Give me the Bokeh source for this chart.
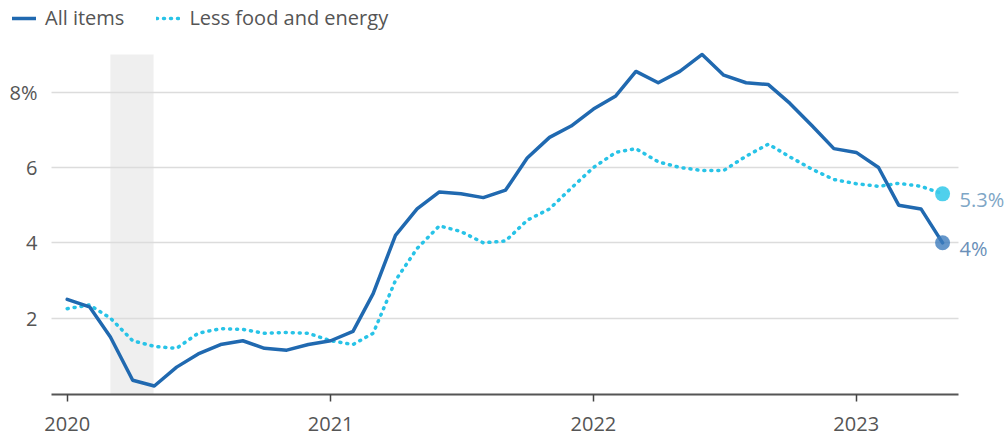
import pandas as pd
from bokeh.plotting import figure
from bokeh.models import (Range1d, FixedTicker, DatetimeTickFormatter, BoxAnnotation,
                          Legend, LegendItem, Label, DatetimeAxis, LinearAxis, Grid)
from bokeh.embed import file_html
from bokeh.resources import INLINE

# ---------------- data ----------------
dates = pd.date_range("2020-01-01", periods=41, freq="MS")
all_items = [2.5, 2.3, 1.5, 0.35, 0.2, 0.7, 1.05, 1.3, 1.4, 1.2, 1.15, 1.3,
             1.4, 1.65, 2.65, 4.2, 4.9, 5.35, 5.3, 5.2, 5.4, 6.25, 6.8, 7.1,
             7.55, 7.9, 8.55, 8.25, 8.55, 9.0, 8.45, 8.25, 8.2, 7.7, 7.1, 6.5,
             6.4, 6.0, 5.0, 4.9, 4.0]
core = [2.25, 2.35, 2.0, 1.4, 1.25, 1.2, 1.6, 1.72, 1.7, 1.6, 1.62, 1.6,
        1.4, 1.3, 1.6, 3.0, 3.85, 4.45, 4.3, 4.0, 4.05, 4.6, 4.9, 5.45,
        6.0, 6.4, 6.5, 6.15, 6.0, 5.92, 5.92, 6.3, 6.62, 6.28, 5.95, 5.68,
        5.57, 5.5, 5.58, 5.5, 5.3]
series_names = ["All items", "Less food and energy"]
recession = ["2020-03-01", "2020-04-30"]
year_ticks = ["2020-01-01", "2021-01-01", "2022-01-01", "2023-01-01"]
y_ticks = [2, 4, 6, 8]
y_tick_labels = ["2", "4", "6", "8%"]
y_top = 9.0

# ---------------- layout / style ----------------
W, H = 1008, 438
DAY = 86400000.0
ORIGIN = pd.Timestamp("2020-01-01").value / 1e6
PX_PER_DAY = 0.71989          # horizontal scale
PX_PER_UNIT = 37.67           # vertical scale
ORIGIN_PX = 66.7              # x pixel of 2020-01-01
ZERO_PX = 393.0               # y pixel (from top) of value 0
PLOT_L_PX, PLOT_R_PX = 51.0, 958.0
AXIS_PX = 394.3

C_ALL = "#2069b0"
C_CORE = "#28c3e7"
FONT = "Open Sans"
TXT = "#555555"


def ms(s):
    return pd.Timestamp(s).value / 1e6


def xpx(px):
    return ORIGIN + (px - ORIGIN_PX) / PX_PER_DAY * DAY


def ypx(px):
    return (ZERO_PX - px) / PX_PER_UNIT


x_left, x_right = xpx(PLOT_L_PX), xpx(PLOT_R_PX)
y_axis_val = ypx(AXIS_PX)

p = figure(width=W, height=H, output_backend="svg", toolbar_location=None,
           x_axis_type=None, y_axis_type=None,
           x_range=Range1d(xpx(0), xpx(W)), y_range=Range1d(ypx(H), ypx(0)),
           min_border=0, min_border_left=0, min_border_right=0,
           min_border_top=0, min_border_bottom=0)
p.outline_line_color = None
p.background_fill_color = "white"
p.border_fill_color = "white"

# recession shading
p.add_layout(BoxAnnotation(left=ms(recession[0]), right=ms(recession[1]),
                           top=y_top, bottom=y_axis_val,
                           fill_color="#efefef", fill_alpha=1.0, line_color=None,
                           level="underlay"))

# horizontal grid
grid = Grid(dimension=1, ticker=FixedTicker(ticks=y_ticks),
            grid_line_color="#dcdcdc", grid_line_width=1.5)
try:
    grid.cross_bounds = (x_left, x_right)
    p.add_layout(grid)
except Exception:
    p.segment(x0=[x_left] * len(y_ticks), x1=[x_right] * len(y_ticks),
              y0=y_ticks, y1=y_ticks, line_color="#dcdcdc", line_width=1.5,
              level="underlay")

# y axis
yaxis = LinearAxis(fixed_location=x_left, ticker=FixedTicker(ticks=y_ticks),
                   major_label_overrides={t: l for t, l in zip(y_ticks, y_tick_labels)},
                   axis_line_color=None, major_tick_line_color=None,
                   minor_tick_line_color=None, major_label_standoff=8,
                   major_label_text_font=FONT, major_label_text_font_size="20px",
                   major_label_text_color=TXT)
p.add_layout(yaxis, "left")

# x axis
fmt = DatetimeTickFormatter(years="%Y", months="%Y", days="%Y", hours="%Y",
                            minutes="%Y", seconds="%Y", milliseconds="%Y",
                            microseconds="%Y")
xaxis = DatetimeAxis(fixed_location=y_axis_val, bounds=(x_left, x_right),
                     ticker=FixedTicker(ticks=[ms(t) for t in year_ticks]),
                     formatter=fmt,
                     axis_line_color="#555555", axis_line_width=2,
                     major_tick_line_color="#444444", major_tick_line_width=1.5,
                     major_tick_out=7, major_tick_in=0, minor_tick_line_color=None,
                     major_label_standoff=15, major_label_text_font=FONT,
                     major_label_text_font_size="20px", major_label_text_color=TXT)
p.add_layout(xaxis, "below")

# lines
r_core = p.line(dates, core, line_color=C_CORE, line_width=3.5, line_dash="1 6",
                line_cap="round", line_join="round")
r_all = p.line(dates, all_items, line_color=C_ALL, line_width=3.5,
               line_cap="round", line_join="round")

# end markers and labels
p.scatter([dates[-1]], [core[-1]], size=15, fill_color="#3ccbea", fill_alpha=0.9,
          line_color=None)
p.scatter([dates[-1]], [all_items[-1]], size=15, fill_color="#3d7cbd", fill_alpha=0.8,
          line_color=None)
for val, col in ((core[-1], "#7ea6c6"), (all_items[-1], "#6a8fb8")):
    p.add_layout(Label(x=dates[-1], y=val, x_offset=17, y_offset=-6,
                       text=f"{val:g}%", text_font=FONT, text_font_size="20px",
                       text_color=col, text_baseline="middle", text_align="left"))

# legend
legend = Legend(items=[LegendItem(label=series_names[0], renderers=[r_all]),
                       LegendItem(label=series_names[1], renderers=[r_core])],
                orientation="horizontal", location=(12, 407),
                glyph_width=24, glyph_height=18, label_height=18,
                label_standoff=9, spacing=32, padding=0, margin=0,
                border_line_color=None, background_fill_alpha=0,
                label_text_font=FONT, label_text_font_size="20px",
                label_text_color=TXT)
p.add_layout(legend, "center")

open("out.html", "w").write(file_html(p, INLINE))
